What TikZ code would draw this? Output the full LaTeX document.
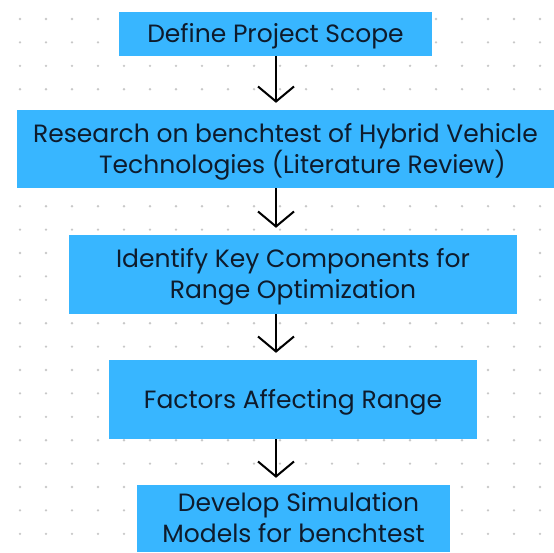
\documentclass[tikz,border=0pt]{standalone}
\usepackage{fontspec}
\setmainfont{Poppins}
\usetikzlibrary{arrows.meta}
\definecolor{boxblue}{HTML}{38B6FF}
\definecolor{ink}{HTML}{0E1B2C}
\definecolor{dotgrey}{HTML}{C8C8C8}
\begin{document}
\begin{tikzpicture}[x=1pt,y=-1pt,
  stepbox/.style={rectangle, fill=boxblue, draw=none, inner sep=0pt, align=center,
    text=ink, font=\fontsize{25}{31}\selectfont, text height=17.5pt, text depth=0pt},
  twolines/.style={text height=48.5pt},
  flow/.style={draw=black, line width=2pt, -{Straight Barb[length=15pt,width=36pt]},
    shorten >=7pt}]
% canvas and dotted grid
\clip (0,0) rectangle (554,552);
\fill[white] (0,0) rectangle (554,552);
\foreach \i in {0,...,20}
  \foreach \j in {0,...,22}
    \fill[dotgrey] (20+26*\i, 19+23.4*\j) circle (1.3pt);

% process steps
\node[stepbox, minimum width=313pt, minimum height=44pt] (scope) at (275.5,34)
  {Define Project Scope};
\node[stepbox, twolines, minimum width=537pt, minimum height=78pt] (research) at (285.5,149)
  {Research on benchtest of Hybrid Vehicle\\\hspace*{34pt}Technologies (Literature Review)};
\node[stepbox, twolines, minimum width=448pt, minimum height=79pt] (components) at (293,274.5)
  {Identify Key Components for\\Range Optimization};
\node[stepbox, minimum width=368pt, minimum height=79pt] (factors) at (293,399.5)
  {Factors Affecting Range};
% last step runs down to the lower edge
\node[stepbox, text height=47pt, minimum width=313pt, minimum height=67pt] (models)
  at (293.5,518.5) {\hspace*{10pt}Develop Simulation\\Models for benchtest};

% connectors along a common vertical line
\coordinate (spine) at (276,0);
\draw[flow] (scope.south -| spine) -- (research.north -| spine);
\draw[flow] (research.south -| spine) -- (components.north -| spine);
\draw[flow] (components.south -| spine) -- (factors.north -| spine);
\draw[flow] (factors.south -| spine) -- (models.north -| spine);
\end{tikzpicture}
\end{document}
